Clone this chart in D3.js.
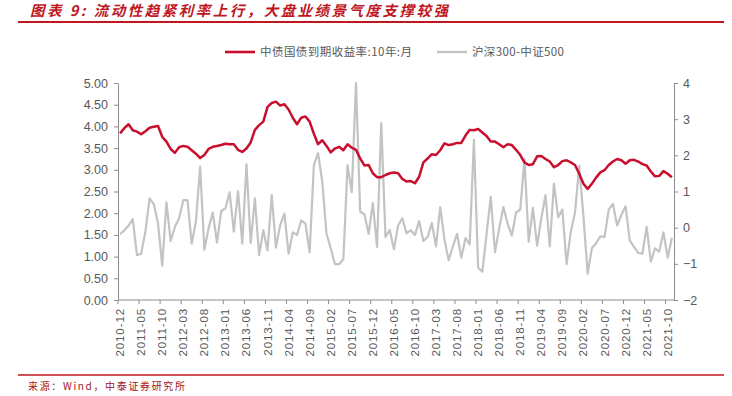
<!DOCTYPE html>
<html>
<head>
<meta charset="utf-8">
<script src="https://cdn.jsdelivr.net/npm/d3@7"></script>
<style>
  body { margin: 0; background: #fff; }
  svg { display: block; font-family: Arial, "Liberation Sans", "Noto Sans CJK SC", sans-serif; }
</style>
</head>
<body>
<div class="chart"></div>
<script>
// monthly categories 2010-12 .. 2021-11
const months = d3.timeMonth.range(new Date(2010, 11, 1), new Date(2021, 11, 1)).map(d3.timeFormat('%Y-%m'))

const yieldVals = [
  3.84,3.96,4.05,3.91,3.88,3.82,3.89,3.97,3.99,4.01,3.76,3.65,
  3.48,3.39,3.52,3.55,3.53,3.45,3.37,3.27,3.34,3.48,3.53,3.55,
  3.57,3.60,3.59,3.59,3.46,3.41,3.49,3.63,3.92,4.03,4.11,4.45,
  4.54,4.57,4.48,4.51,4.39,4.20,4.05,4.20,4.23,4.11,3.83,3.59,
  3.68,3.55,3.40,3.49,3.53,3.45,3.59,3.51,3.46,3.26,3.10,3.11,
  2.92,2.83,2.83,2.88,2.92,2.94,2.92,2.79,2.73,2.74,2.69,2.84,
  3.17,3.26,3.36,3.34,3.45,3.61,3.57,3.59,3.62,3.62,3.79,3.92,
  3.91,3.94,3.86,3.78,3.65,3.65,3.59,3.52,3.59,3.57,3.46,3.34,
  3.17,3.11,3.13,3.31,3.32,3.25,3.19,3.06,3.11,3.20,3.22,3.17,
  3.11,2.91,2.68,2.56,2.68,2.82,2.94,2.99,3.11,3.19,3.25,3.22,
  3.14,3.22,3.23,3.19,3.13,3.10,2.96,2.85,2.86,2.97,2.91,2.83
]

const spreadVals = [
  -0.18,-0.07,0.05,0.24,-0.76,-0.72,-0.11,0.81,0.65,0.12,-1.05,0.70,
  -0.37,0.02,0.26,0.76,0.76,-0.44,0.17,1.69,-0.61,-0.02,0.42,-0.41,
  0.46,0.53,0.98,-0.11,1.01,-0.44,1.75,-0.42,0.81,-0.76,-0.07,-0.63,
  0.90,-0.55,0.07,0.39,-0.72,-0.13,-0.20,0.20,0.11,-0.68,1.73,2.06,
  1.27,-0.17,-0.57,-1.01,-1.01,-0.87,1.73,0.98,4.00,0.44,0.37,-0.17,
  0.68,-0.53,2.89,-0.26,-0.06,-0.60,0.06,0.26,-0.16,-0.07,-0.20,0.18,
  -0.37,-0.26,0.13,-0.52,0.57,-0.33,-0.90,-0.52,-0.17,-0.83,-0.29,-0.46,
  2.43,-1.11,-1.22,-0.18,0.85,-0.68,-0.02,0.57,0.11,-0.22,0.42,0.50,
  1.90,-0.39,0.55,-0.50,0.26,0.90,-0.52,1.22,0.29,0.50,-1.01,-0.11,
  0.42,1.71,0.31,-1.27,-0.57,-0.43,-0.24,-0.26,0.50,0.66,0.06,0.35,
  0.59,-0.35,-0.53,-0.70,-0.72,0.02,-0.94,-0.57,-0.66,-0.13,-0.83,-0.28
]

const leftTicks = [0,0.5,1,1.5,2,2.5,3,3.5,4,4.5,5]
const rightTicks = [-2,-1,0,1,2,3,4]
const seriesNames = ['中债国债到期收益率:10年:月', '沪深300-中证500']

const width = 732, height = 396
const plot = {left: 118, right: 674, top: 83, bottom: 300}
const red = '#c8102e', grey = '#c3c3c3', axisCol = '#8c8c8c', textCol = '#595959'

const svg = d3.select('.chart').append('svg')
  .attr('width', width)
  .attr('height', height)

// title
svg.append('text')
  .attr('x', 30).attr('y', 16)
  .attr('fill', '#c0161e')
  .attr('font-size', 14.5)
  .attr('font-weight', 'bold')
  .attr('font-style', 'italic')
  .attr('font-family', '"Noto Sans CJK SC", sans-serif')
  .attr('textLength', 418)
  .attr('lengthAdjust', 'spacing')
  .text('图表 9:  流动性趋紧利率上行，大盘业绩景气度支撑较强')

svg.append('line')
  .attr('x1', 18).attr('x2', 724).attr('y1', 22).attr('y2', 22)
  .attr('stroke', '#c0161e').attr('stroke-width', 2)

// source
svg.append('line')
  .attr('x1', 18).attr('x2', 724).attr('y1', 375).attr('y2', 375)
  .attr('stroke', '#c0161e').attr('stroke-width', 1.5)
svg.append('text')
  .attr('x', 28).attr('y', 390)
  .attr('fill', '#a0141c')
  .attr('font-size', 10)
  .attr('font-family', '"Noto Sans CJK SC", sans-serif')
  .attr('textLength', 157)
  .attr('lengthAdjust', 'spacing')
  .text('来源：Wind，中泰证券研究所')

// scales
const x = d3.scaleBand().domain(months).range([plot.left, plot.right]).padding(0)
const yL = d3.scaleLinear().domain([0, 5]).range([plot.bottom, plot.top])
const yR = d3.scaleLinear().domain([-2, 4]).range([plot.bottom, plot.top])

function styleAxis(g){
  g.select('.domain').attr('stroke', axisCol)
  g.selectAll('.tick line').attr('stroke', axisCol)
  g.selectAll('.tick text').attr('fill', textCol)
}

svg.append('g')
  .attr('transform', 'translate(' + plot.left + ',0)')
  .call(d3.axisLeft(yL).tickValues(leftTicks).tickFormat(d3.format('.2f')).tickSize(4).tickSizeOuter(0).tickPadding(6))
  .attr('font-size', 12.5)
  .attr('font-family', 'Arial, "Liberation Sans", sans-serif')
  .call(styleAxis)

svg.append('g')
  .attr('transform', 'translate(' + plot.right + ',0)')
  .call(d3.axisRight(yR).tickValues(rightTicks).tickFormat(d3.format('d')).tickSize(4).tickSizeOuter(0).tickPadding(5))
  .attr('font-size', 12.5)
  .attr('font-family', 'Arial, "Liberation Sans", sans-serif')
  .call(styleAxis)

// x axis: ticks at category boundaries every 5 months
const tickCats = months.filter((d, i) => i % 5 === 0)
const xg = svg.append('g')
xg.append('line')
  .attr('x1', plot.left).attr('x2', plot.right)
  .attr('y1', plot.bottom).attr('y2', plot.bottom)
  .attr('stroke', axisCol)
xg.selectAll('.xt').data(tickCats).join('line')
  .attr('x1', d => x(d)).attr('x2', d => x(d))
  .attr('y1', plot.bottom).attr('y2', plot.bottom + 4)
  .attr('stroke', axisCol)
xg.selectAll('.xl').data(tickCats).join('text')
  .attr('transform', d => 'translate(' + (x(d) + x.bandwidth() / 2 + 4) + ',' + (plot.bottom + 8) + ') rotate(-90)')
  .attr('text-anchor', 'end')
  .attr('font-size', 11.5)
  .attr('letter-spacing', 0.9)
  .attr('fill', textCol)
  .text(d => d)

// lines
const lineL = d3.line().x((d, i) => x(months[i]) + x.bandwidth() / 2).y(d => yL(d))
const lineR = d3.line().x((d, i) => x(months[i]) + x.bandwidth() / 2).y(d => yR(d))

svg.append('path')
  .datum(spreadVals)
  .attr('d', lineR)
  .attr('fill', 'none')
  .attr('stroke', grey)
  .attr('stroke-width', 2.2)
  .attr('stroke-linejoin', 'round')

svg.append('path')
  .datum(yieldVals)
  .attr('d', lineL)
  .attr('fill', 'none')
  .attr('stroke', red)
  .attr('stroke-width', 2.5)
  .attr('stroke-linejoin', 'round')

// legend
const legend = svg.append('g').attr('font-size', 11.5).attr('fill', textCol)
  .attr('font-family', '"Noto Sans CJK SC", sans-serif')
const legendItems = [
  {name: seriesNames[0], color: red, x: 225, w: 2.6, len: 152},
  {name: seriesNames[1], color: grey, x: 437, w: 2.2, len: 92}
]
legendItems.forEach(it => {
  legend.append('line')
    .attr('x1', it.x).attr('x2', it.x + 30).attr('y1', 52).attr('y2', 52)
    .attr('stroke', it.color).attr('stroke-width', it.w)
  legend.append('text')
    .attr('x', it.x + 35).attr('y', 56)
    .attr('textLength', it.len)
    .attr('lengthAdjust', 'spacing')
    .text(it.name)
})
</script>
</body>
</html>
